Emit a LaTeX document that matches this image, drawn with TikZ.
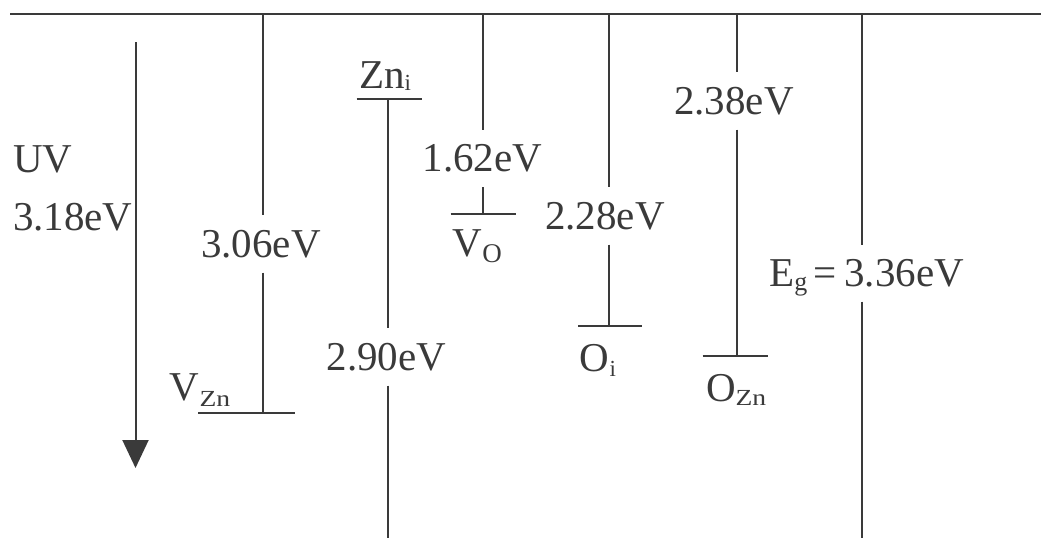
\documentclass[tikz,border=0pt]{standalone}
\usepackage{fontspec}
\setmainfont{Liberation Serif}
\usetikzlibrary{arrows.meta}
\definecolor{ink}{HTML}{3A3A3A}
\newcommand{\lblfs}{\fontsize{41}{45}\selectfont}
\newcommand{\subfs}{\fontsize{23}{25}\selectfont}
\newcommand{\subfsO}{\fontsize{27}{29}\selectfont}
\newcommand{\wsub}[1]{\scalebox{1.2}[1]{\subfs #1}}
\begin{document}
\begin{tikzpicture}[x=1pt,y=-1pt,line width=2pt,draw=ink,
  txt/.style={inner sep=0pt,font=\lblfs,text=ink},
  cut/.style={inner xsep=0pt,inner ysep=14pt,font=\lblfs,text=ink,anchor=base}]
\useasboundingbox (0,0) rectangle (1041,538);
% top band edge
\coordinate (topL) at (10,13.5);
\coordinate (topR) at (1041,13.5);
\draw (topL) -- (topR);
% column tops / ends
\coordinate (tvzn) at (263,13.5);
\coordinate (tvo) at (483,13.5);
\coordinate (toi) at (609,13.5);
\coordinate (tozn) at (737,13.5);
\coordinate (teg) at (862,13.5);
\coordinate (beg) at (862,538);
\coordinate (bzni) at (388,538);
% level bars
\coordinate (vznL) at (198,412.7); \coordinate (vznR) at (295,412.7); \coordinate (vznC) at (263,412.7);
\coordinate (zniL) at (356.7,99.3); \coordinate (zniR) at (421.7,99.3); \coordinate (zniC) at (388,99.3);
\coordinate (voL) at (450.7,214); \coordinate (voR) at (516,214); \coordinate (voC) at (483,214);
\coordinate (oiL) at (578.3,326); \coordinate (oiR) at (641.7,326); \coordinate (oiC) at (609,326);
\coordinate (oznL) at (702.7,356); \coordinate (oznR) at (768.3,356); \coordinate (oznC) at (737,356);
\draw (vznL) -- (vznR);
\draw (zniL) -- (zniR);
\draw (voL) -- (voR);
\draw (oiL) -- (oiR);
\draw (oznL) -- (oznR);
% UV arrow
\coordinate (uvT) at (135.5,42);
\coordinate (uvB) at (135.5,468);
\draw[-{Triangle[width=26pt,length=28pt]}] (uvT) -- (uvB);
\node[txt,anchor=base west] (uv) at (12,172) {UV};
\node[txt,anchor=base west] (uve) at (12,230) {3.18eV};
% energy labels cutting the lines
\node[cut] (l306) at (261,257) {3.06eV};
\node[cut] (l290) at (386.5,370) {2.90eV};
\node[cut] (l162) at (482.4,171.7) {1.62eV};
\node[cut] (l228) at (605,229) {2.28eV};
\node[cut] (l238) at (734,114) {2.38eV};
\node[cut,anchor=base west,text depth=0pt] (leg) at (768.3,286.7) {E\raisebox{-4pt}{\fontsize{26}{28}\selectfont g}\hspace{6pt}=\hspace{8pt}3.36eV};
\draw (tvzn) -- (l306.north -| tvzn);
\draw (l306.south -| tvzn) -- (vznC);
\draw (zniC) -- (l290.north -| zniC);
\draw (l290.south -| zniC) -- (bzni);
\draw (tvo) -- (l162.north -| tvo);
\draw (l162.south -| tvo) -- (voC);
\draw (toi) -- (l228.north -| toi);
\draw (l228.south -| toi) -- (oiC);
\draw (tozn) -- (l238.north -| tozn);
\draw (l238.south -| tozn) -- (oznC);
\draw (teg) -- (leg.north -| teg);
\draw (leg.south -| teg) -- (beg);
% defect names
\node[txt,anchor=base west] (nvzn) at (168,400) {V\hspace{1pt}\raisebox{-6pt}{\wsub{Zn}}};
\node[txt,anchor=base west] (nzni) at (358,88) {Zn\raisebox{-2pt}{\subfs i}};
\node[txt,anchor=base west] (nvo) at (451.7,256.7) {V\raisebox{-6pt}{\subfsO O}};
\node[txt,anchor=base west] (noi) at (578,371) {O\hspace{1pt}\raisebox{-5pt}{\subfs i}};
\node[txt,anchor=base west] (nozn) at (705,401) {O\raisebox{-4pt}{\wsub{Zn}}};
\end{tikzpicture}
\end{document}
